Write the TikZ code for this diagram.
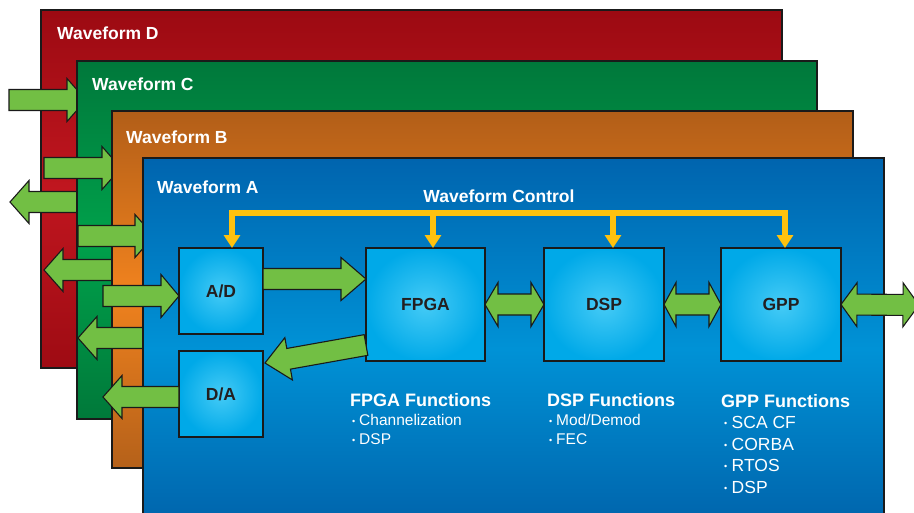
\documentclass[tikz,border=0pt]{standalone}
\usepackage{fontspec}
\setmainfont{Liberation Sans}
\usetikzlibrary{calc,arrows.meta}
\definecolor{gfill}{HTML}{72BF44}
\definecolor{edge}{HTML}{1A1A1A}
\definecolor{ctrly}{HTML}{FFC20E}
\definecolor{boxtxt}{HTML}{231F20}
\definecolor{redT}{HTML}{9C0A12}\definecolor{redM}{HTML}{C0161F}\definecolor{redB}{HTML}{9E0B13}
\definecolor{grnT}{HTML}{00783B}\definecolor{grnM}{HTML}{00A14B}\definecolor{grnB}{HTML}{00793A}
\definecolor{orgT}{HTML}{B25E18}\definecolor{orgM}{HTML}{F0821E}\definecolor{orgB}{HTML}{B5611A}
\definecolor{bluT}{HTML}{0064AE}\definecolor{bluM}{HTML}{0092D6}\definecolor{bluB}{HTML}{0060A8}
\definecolor{cyIn}{HTML}{45CBF6}\definecolor{cyOut}{HTML}{00A9E8}
\newcommand\sarrow[3]{%
  \coordinate (sA) at (#1);\coordinate (sT) at (#2);
  \coordinate (sH) at ($(sT)!#3!(sA)$);
  \filldraw[garrow] ($(sA)!10.5pt!90:(sT)$) -- ($(sH)!10.5pt!90:(sT)$) -- ($(sH)!21.5pt!90:(sT)$) -- (sT)
    -- ($(sH)!21.5pt!-90:(sT)$) -- ($(sH)!10.5pt!-90:(sT)$) -- ($(sA)!10.5pt!-90:(sT)$) -- cycle;}
\newcommand\darrow[3]{%
  \coordinate (dA) at (#1);\coordinate (dB) at (#2);
  \coordinate (dHa) at ($(dA)!#3!(dB)$);\coordinate (dHb) at ($(dB)!#3!(dA)$);
  \filldraw[garrow] (dA) -- ($(dHa)!22pt!90:(dB)$) -- ($(dHa)!10.5pt!90:(dB)$) -- ($(dHb)!10.5pt!-90:(dA)$)
    -- ($(dHb)!22pt!-90:(dA)$) -- (dB) -- ($(dHb)!22pt!90:(dA)$) -- ($(dHb)!10.5pt!90:(dA)$)
    -- ($(dHa)!10.5pt!-90:(dB)$) -- ($(dHa)!22pt!-90:(dB)$) -- cycle;}
\newcommand\bul{\raisebox{1.3pt}{\fontsize{9}{9}\selectfont •}\hspace{0.25em}}
\begin{document}
\begin{tikzpicture}[x=1pt,y=-1pt,
  frame/.style={draw=edge,line width=1.2pt,anchor=north west,inner sep=0pt,outer sep=0pt,minimum width=741},
  wlabel/.style={anchor=west,text=white,font=\fontsize{17.5}{20}\selectfont\bfseries,inner sep=0pt},
  blk/.style={draw=edge,line width=1.2pt,inner sep=0pt,outer sep=0pt,inner color=cyIn,outer color=cyOut,
    text=boxtxt,font=\fontsize{17.5}{20}\selectfont\bfseries},
  garrow/.style={fill=gfill,draw=edge,line width=1.1pt,line join=miter},
  yline/.style={draw=ctrly,line width=5.5pt,line join=miter},
  ftitle/.style={anchor=west,text=white,font=\fontsize{18}{21}\selectfont\bfseries,inner sep=0pt},
  fitem/.style={anchor=west,text=white,font=\fontsize{15.5}{18}\selectfont,inner sep=0pt},
  gitem/.style={anchor=west,text=white,font=\fontsize{17.5}{20}\selectfont,inner sep=0pt}]
\useasboundingbox (0,0) rectangle (914,512);
\fill[white] (0,0) rectangle (914,512);
% Waveform D
\node[frame,top color=redT,bottom color=redB,middle color=redM,minimum height=358] (wD) at (41,10) {};
\node[wlabel] (lD) at (57,33) {Waveform D};
\coordinate (a1) at (9,100);\coordinate (a1t) at (86,100);
\sarrow{a1}{a1t}{19pt}
\coordinate (a3) at (90,202);\coordinate (a3t) at (10,202);
\sarrow{a3}{a3t}{19pt}
% Waveform C
\node[frame,top color=grnT,bottom color=grnB,middle color=grnM,minimum height=358,minimum width=740] (wC) at (77,61) {};
\node[wlabel] (lC) at (92,84) {Waveform C};
\coordinate (a2) at (44,168);\coordinate (a2t) at (121,168);
\sarrow{a2}{a2t}{19pt}
\coordinate (a5) at (120,270);\coordinate (a5t) at (44,270);
\sarrow{a5}{a5t}{19pt}
% Waveform B
\node[frame,top color=orgT,bottom color=orgB,middle color=orgM,minimum height=357] (wB) at (112,111) {};
\node[wlabel] (lB) at (126,137) {Waveform B};
\coordinate (a4) at (78,236);\coordinate (a4t) at (154,236);
\sarrow{a4}{a4t}{19pt}
\coordinate (a7) at (150,338);\coordinate (a7t) at (78,338);
\sarrow{a7}{a7t}{19pt}
% Waveform A
\node[frame,top color=bluT,bottom color=bluB,middle color=bluM,minimum height=382] (wA) at (143,158) {};
\node[wlabel] (lA) at (157,187) {Waveform A};
% blocks
\node[blk,minimum width=84,minimum height=86] (ad) at (221,291) {A/D};
\node[blk,minimum width=84,minimum height=86] (da) at (221,394) {D/A};
\node[blk,minimum width=119,minimum height=113] (fpga) at (425.5,304.5) {FPGA};
\node[blk,minimum width=120,minimum height=113] (dsp) at (604,304.5) {DSP};
\node[blk,minimum width=120,minimum height=113] (gpp) at (781,304.5) {GPP};
% waveform control
\node[text=white,font=\fontsize{17.5}{20}\selectfont\bfseries,inner sep=0pt] (wc) at (499,196) {Waveform Control};
\coordinate (c1) at (232,213);\coordinate (c2) at (433,213);\coordinate (c3) at (613,213);\coordinate (c4) at (785,213);
\draw[yline,{Triangle[width=16pt,length=13pt]}-{Triangle[width=16pt,length=13pt]}] (c1 |- ad.north) -- (c1) -- (c4) -- (c4 |- gpp.north);
\draw[yline,-{Triangle[width=16pt,length=13pt]}] (c2) -- (c2 |- fpga.north);
\draw[yline,-{Triangle[width=16pt,length=13pt]}] (c3) -- (c3 |- dsp.north);
% green arrows inside A
\coordinate (a6) at (103,296);
\sarrow{a6}{ad.west |- a6}{18pt}
\coordinate (a8t) at (103,397);
\sarrow{da.west |- a8t}{a8t}{19pt}
\coordinate (a9) at (0,279);
\sarrow{ad.east |- a9}{fpga.west |- a9}{25pt}
\coordinate (a10) at (366,345);\coordinate (a10t) at (265,363);
\sarrow{a10}{a10t}{24pt}
\darrow{fpga.east}{dsp.west}{13pt}
\darrow{dsp.east}{gpp.west}{12pt}
\coordinate (gout) at (919,305);
\darrow{gpp.east}{gout}{16pt}
% function lists
\node[ftitle] (ft1) at (350,400) {FPGA Functions};
\node[fitem] (f11) at (352,420) {\bul Channelization};
\node[fitem] (f12) at (352,439) {\bul DSP};
\node[ftitle] (ft2) at (547,400) {DSP Functions};
\node[fitem] (f21) at (549,420) {\bul Mod/Demod};
\node[fitem] (f22) at (549,439) {\bul FEC};
\node[ftitle] (ft3) at (721,401) {GPP Functions};
\node[gitem] (f31) at (724,422) {\bul SCA CF};
\node[gitem] (f32) at (724,444) {\bul CORBA};
\node[gitem] (f33) at (724,465) {\bul RTOS};
\node[gitem] (f34) at (724,487) {\bul DSP};
\end{tikzpicture}
\end{document}
